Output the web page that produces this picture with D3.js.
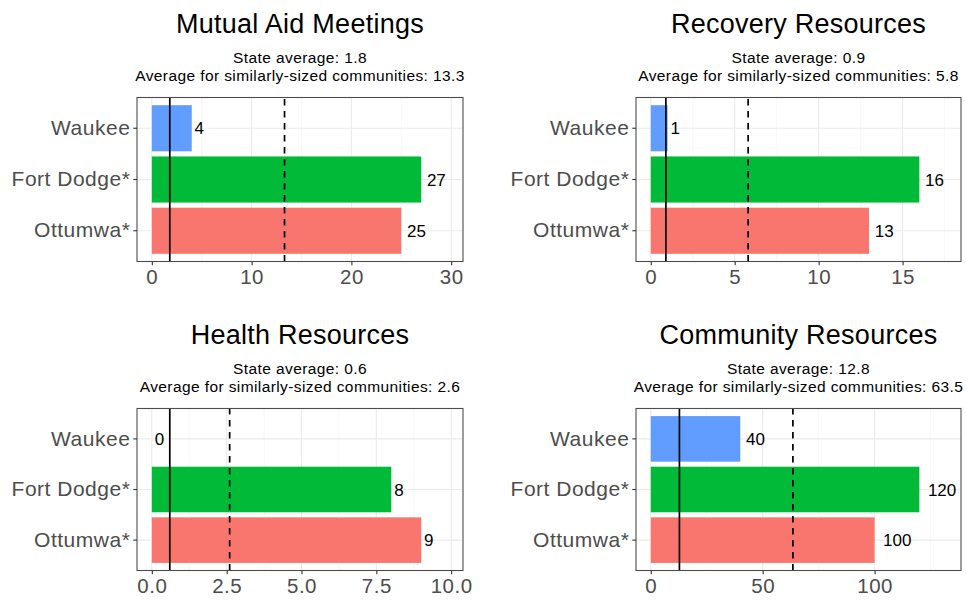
<!DOCTYPE html>
<html>
<head>
<meta charset="utf-8">
<script src="https://cdn.jsdelivr.net/npm/d3@7"></script>
<style>
  html, body { margin: 0; padding: 0; background: #fff; }
  svg { display: block; font-family: "Liberation Sans", Arial, sans-serif; }
</style>
</head>
<body>
<svg id="chart" width="966" height="602"></svg>
<script>
// ---- data ----
const categories = ["Ottumwa*", "Fort Dodge*", "Waukee"];
const categoryColors = ["#F8766D", "#00BA38", "#619CFF"];
const panelTitles = ["Mutual Aid Meetings", "Recovery Resources", "Health Resources", "Community Resources"];
const mutualAidValues = [25, 27, 4];
const recoveryValues = [13, 16, 1];
const healthValues = [9, 8, 0];
const communityValues = [100, 120, 40];
const stateAverages = [1.8, 0.9, 0.6, 12.8];
const similarAverages = [13.3, 5.8, 2.6, 63.5];
const mutualAidTicks = [0, 10, 20, 30];
const recoveryTicks = [0, 5, 10, 15];
const healthTicks = [0, 2.5, 5, 7.5, 10];
const communityTicks = [0, 50, 100];
const tickFormats = ["d", "d", ".1f", "d"];

const seriesValues = [mutualAidValues, recoveryValues, healthValues, communityValues];
const seriesTicks = [mutualAidTicks, recoveryTicks, healthTicks, communityTicks];

// ---- layout ----
const cols = [{l: 137, r: 463}, {l: 636, r: 961}];
const rows = [{t: 97.5, b: 261.5}, {t: 408.5, b: 570.5}];

const svg = d3.select("#chart");

panelTitles.forEach((title, i) => {
  const c = cols[i % 2], r = rows[Math.floor(i / 2)];
  const vals = seriesValues[i];
  const xmax = d3.max(vals) * 1.1;
  const x = d3.scaleLinear().domain([-0.05 * xmax, 1.05 * xmax]).range([c.l, c.r]);
  const y = d3.scaleBand().domain(categories.slice().reverse())
    .range([r.t, r.b]).paddingInner(0.1).paddingOuter(0.15);
  const g = svg.append("g");
  const ticks = seriesTicks[i];

  // minor grid
  const step = ticks[1] - ticks[0];
  const minors = [];
  for (let v = ticks[0] - step / 2; v <= x.domain()[1]; v += step) {
    if (v >= x.domain()[0]) minors.push(v);
  }
  g.selectAll(".minor").data(minors).join("line")
    .attr("x1", d => x(d)).attr("x2", d => x(d))
    .attr("y1", r.t).attr("y2", r.b)
    .attr("stroke", "#F2F2F2").attr("stroke-width", 0.6);
  // major grid
  g.selectAll(".majx").data(ticks).join("line")
    .attr("x1", d => x(d)).attr("x2", d => x(d))
    .attr("y1", r.t).attr("y2", r.b)
    .attr("stroke", "#EBEBEB").attr("stroke-width", 1.1);
  g.selectAll(".majy").data(categories).join("line")
    .attr("x1", c.l).attr("x2", c.r)
    .attr("y1", d => y(d) + y.bandwidth() / 2).attr("y2", d => y(d) + y.bandwidth() / 2)
    .attr("stroke", "#EBEBEB").attr("stroke-width", 1.1);

  // bars
  const data = categories.map((cat, k) => ({cat, v: vals[k], color: categoryColors[k]}));
  g.selectAll(".bar").data(data).join("rect")
    .attr("x", x(0)).attr("y", d => y(d.cat))
    .attr("width", d => x(d.v) - x(0)).attr("height", y.bandwidth())
    .attr("fill", d => d.color);

  // value labels
  g.selectAll(".val").data(data).join("text")
    .attr("x", d => x(d.v)).attr("y", d => y(d.cat) + y.bandwidth() / 2)
    .attr("dy", "0.36em")
    .attr("font-size", 17).attr("fill", "#000")
    .text(d => d.v)
    .each(function () {
      const w = this.getComputedTextLength();
      d3.select(this).attr("dx", 0.3 * w);
    });

  // reference lines
  g.append("line")
    .attr("x1", x(stateAverages[i])).attr("x2", x(stateAverages[i]))
    .attr("y1", r.b).attr("y2", r.t)
    .attr("stroke", "#000").attr("stroke-width", 1.7);
  g.append("line")
    .attr("x1", x(similarAverages[i])).attr("x2", x(similarAverages[i]))
    .attr("y1", r.b).attr("y2", r.t)
    .attr("stroke", "#000").attr("stroke-width", 1.7)
    .attr("stroke-dasharray", "6.5,5.5");

  // panel border
  g.append("rect").attr("x", c.l).attr("y", r.t)
    .attr("width", c.r - c.l).attr("height", r.b - r.t)
    .attr("fill", "none").attr("stroke", "#4D4D4D").attr("stroke-width", 1.1);

  // axes
  const xa = g.append("g").attr("transform", `translate(0,${r.b})`)
    .call(d3.axisBottom(x).tickValues(ticks).tickFormat(d3.format(tickFormats[i]))
      .tickSize(3.7).tickPadding(4).tickSizeOuter(0));
  xa.select(".domain").remove();
  xa.selectAll(".tick line").attr("stroke", "#333").attr("stroke-width", 1.1);
  xa.selectAll(".tick text").attr("fill", "#4D4D4D").attr("font-size", 20.5)
    .attr("letter-spacing", 0.5)
    .attr("font-family", "Liberation Sans, Arial, sans-serif");

  const ya = g.append("g").attr("transform", `translate(${c.l},0)`)
    .call(d3.axisLeft(y).tickSize(3.7).tickPadding(3).tickSizeOuter(0));
  ya.select(".domain").remove();
  ya.selectAll(".tick line").attr("stroke", "#333").attr("stroke-width", 1.1);
  ya.selectAll(".tick text").attr("fill", "#4D4D4D").attr("font-size", 21)
    .attr("letter-spacing", 0.5)
    .attr("font-family", "Liberation Sans, Arial, sans-serif");

  // titles
  const cx = (c.l + c.r) / 2;
  g.append("text").attr("x", cx).attr("y", r.t - 64.5)
    .attr("text-anchor", "middle").attr("font-size", 27).attr("fill", "#000")
    .attr("letter-spacing", 0.25)
    .text(title);
  g.append("text").attr("x", cx).attr("y", r.t - 34.5)
    .attr("text-anchor", "middle").attr("font-size", 15.5).attr("fill", "#000")
    .attr("letter-spacing", 0.4)
    .text("State average: " + stateAverages[i]);
  g.append("text").attr("x", cx).attr("y", r.t - 16.5)
    .attr("text-anchor", "middle").attr("font-size", 15.5).attr("fill", "#000")
    .attr("letter-spacing", 0.4)
    .text("Average for similarly-sized communities: " + similarAverages[i]);
});
</script>
</body>
</html>
